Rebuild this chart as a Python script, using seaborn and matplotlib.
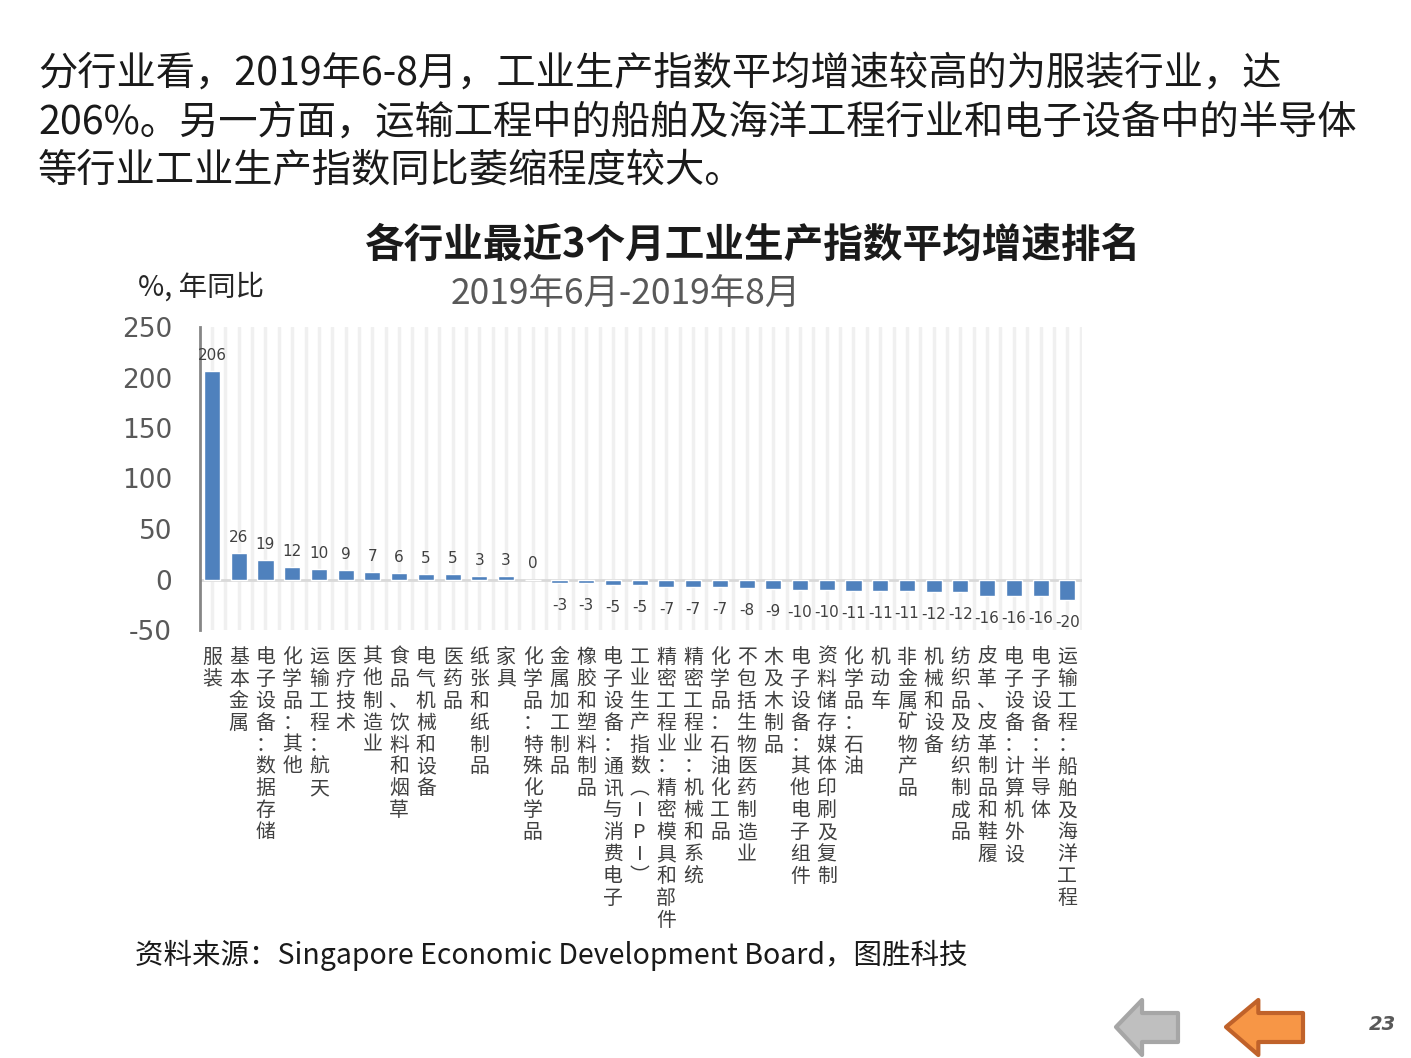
import numpy as np
import pandas as pd
import matplotlib.pyplot as plt
import seaborn as sns
from matplotlib.patches import Polygon

sns.set_style("white")
plt.rcParams['font.family'] = ['Noto Sans CJK SC', 'DejaVu Sans']

# data
industries = ['服装', '基本金属', '电子设备：数据存储', '化学品：其他', '运输工程：航天',
              '医疗技术', '其他制造业', '食品、饮料和烟草', '电气机械和设备', '医药品',
              '纸张和纸制品', '家具', '化学品：特殊化学品', '金属加工制品', '橡胶和塑料制品',
              '电子设备：通讯与消费电子', '工业生产指数︵IPI︶', '精密工程业：精密模具和部件',
              '精密工程业：机械和系统', '化学品：石油化工品', '不包括生物医药制造业', '木及木制品',
              '电子设备：其他电子组件', '资料储存媒体印刷及复制', '化学品：石油', '机动车',
              '非金属矿物产品', '机械和设备', '纺织品及纺织制成品', '皮革、皮革制品和鞋履',
              '电子设备：计算机外设', '电子设备：半导体', '运输工程：船舶及海洋工程']
growth = [206, 26, 19, 12, 10, 9, 7, 6, 5, 5, 3, 3, 0, -3, -3, -5, -5, -7, -7, -7,
          -8, -9, -10, -10, -11, -11, -11, -12, -12, -16, -16, -16, -20]
yticks = [-50, 0, 50, 100, 150, 200, 250]

df = pd.DataFrame({'industry': industries, 'growth': growth})

fig = plt.figure(figsize=(14.11, 10.58), dpi=100)
ax = fig.add_axes([200/1411, 1-630/1058, 882/1411, 303/1058])

# light vertical stripes behind bars
for x in np.arange(0, len(industries), 0.5):
    ax.axvline(x, color='#F0F0F0', lw=2.5, zorder=0)

sns.barplot(data=df, x='industry', y='growth', color='#4F81BD', width=0.6,
            saturation=1, ax=ax, zorder=3)
ax.axhline(0, color='#D9D9D9', lw=2, zorder=2)

for i, v in enumerate(growth):
    if v >= 0:
        ax.annotate(str(v), (i, v), xytext=(0, 6), textcoords='offset points',
                    ha='center', va='bottom', fontsize=11, color='#404040',
                    family='DejaVu Sans')
    else:
        ax.annotate(str(v), (i, v), xytext=(0, -11), textcoords='offset points',
                    ha='center', va='top', fontsize=11, color='#404040',
                    family='DejaVu Sans')

ax.set_xlim(-0.45, len(industries) - 0.45)
ax.set_ylim(-50, 250)
ax.set_yticks(yticks)
ax.set_yticklabels([str(t) for t in yticks], fontsize=19, color='#595959',
                   family='DejaVu Sans')
ax.set_xticks(range(len(industries)))
ax.set_xticklabels(['\n'.join(s) for s in industries], fontsize=14.3, color='#404040',
                   linespacing=1.06, va='top')
ax.tick_params(axis='x', length=0, pad=12)
ax.tick_params(axis='y', length=7, width=2, color='#868686', pad=13)
ax.set_xlabel('')
ax.set_ylabel('')
for s in ['top', 'right', 'bottom']:
    ax.spines[s].set_visible(False)
ax.spines['left'].set_color('#868686')
ax.spines['left'].set_linewidth(2)

# page text
body = ['分行业看，2019年6-8月，工业生产指数平均增速较高的为服装行业，达',
        '206%。另一方面，运输工程中的船舶及海洋工程行业和电子设备中的半导体',
        '等行业工业生产指数同比萎缩程度较大。']
for k, line in enumerate(body):
    fig.text(38/1411, 1-(75+48*k)/1058, line, fontsize=28.3, color='#1a1a1a',
             ha='left', va='center')

fig.text(752/1411, 1-245/1058, '各行业最近3个月工业生产指数平均增速排名', fontsize=28.5,
         fontweight='bold', color='#1a1a1a', ha='center', va='center')
fig.text(626/1411, 1-295/1058, '2019年6月-2019年8月', fontsize=25.5, color='#595959',
         ha='center', va='center')
fig.text(138/1411, 1-288/1058, '%, 年同比', fontsize=20.5, color='#262626',
         ha='left', va='center')
fig.text(135/1411, 1-955/1058, '资料来源：Singapore Economic Development Board，图胜科技',
         fontsize=20.5, color='#1a1a1a', ha='left', va='center')
fig.text(1382/1411, 1-1025/1058, '23', fontsize=14, fontweight='bold', style='italic',
         color='#595959', ha='center', va='center', family='DejaVu Sans')

# navigation arrows
def arrow(x0, x1, fc, ec):
    head = x0 + (x1 - x0) * 0.42
    pts = [(x0, 1027), (head, 1000), (head, 1013), (x1, 1013),
           (x1, 1042), (head, 1042), (head, 1055)]
    pts = [(px/1411, 1-py/1058) for px, py in pts]
    fig.patches.append(Polygon(pts, closed=True, fc=fc, ec=ec, lw=3,
                               transform=fig.transFigure, joinstyle='round'))

arrow(1116, 1178, '#BFBFBF', '#A6A6A6')
arrow(1226, 1303, '#F79646', '#C0622A')

fig.savefig('out.png', dpi=100)
